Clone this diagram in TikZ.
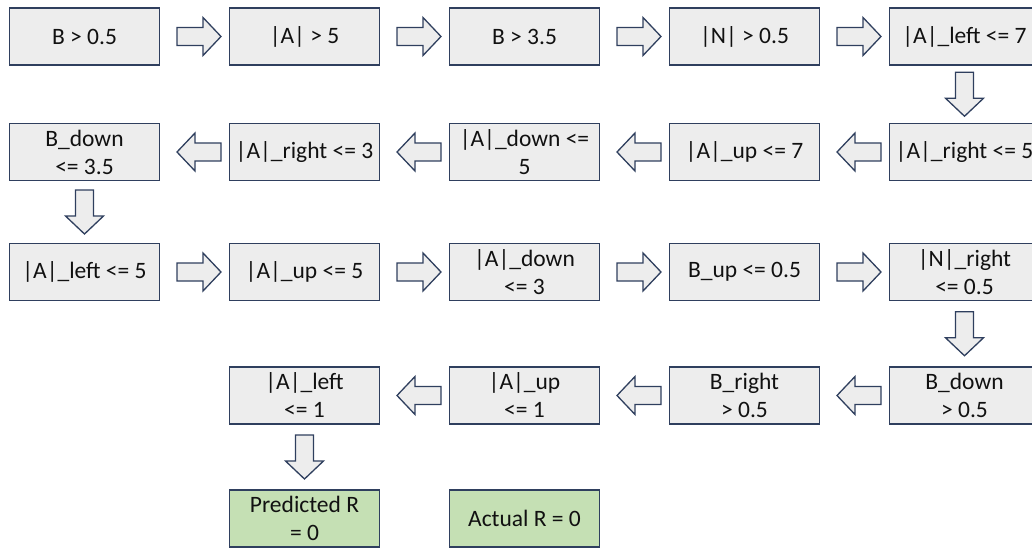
\documentclass[tikz,border=0pt]{standalone}
\usepackage{fontspec}
\setmainfont{Carlito}
\usetikzlibrary{calc}

\definecolor{boxfill}{HTML}{EDEDED}
\definecolor{boxline}{HTML}{2F3F5E}
\definecolor{leaffill}{HTML}{C5E0B4}
\definecolor{inkcol}{HTML}{111111}

\tikzset{
  rulebox/.style={draw=boxline, fill=boxfill, line width=1.3pt,
    minimum width=150pt, minimum height=57pt, inner sep=0pt,
    align=center, text=inkcol, font=\fontsize{23.5}{28}\selectfont},
  leafbox/.style={rulebox, fill=leaffill},
  blockarrow/.style={draw=boxline, fill=boxfill, line width=1.3pt, line join=miter}
}

% block arrow centred between two anchors, pointing along the given angle
\newcommand\flowarrow[5]{%
  \coordinate (#4) at ($(#1)!0.5!(#2)$);
  \begin{scope}[shift={(#4)}, xshift=#5, rotate=#3]
    \draw[blockarrow] (-22,-9) -- (4,-9) -- (4,-19) -- (22,0) -- (4,19) -- (4,9) -- (-22,9) -- cycle;
  \end{scope}
}

\begin{document}
\begin{tikzpicture}[x=1pt, y=-1pt]
\useasboundingbox (0,0) rectangle (1032,548);

% row 1
\node[rulebox] (r1c1) at (84.5,36.5) {B > 0.5};
\node[rulebox] (r1c2) at (304.5,36.5) {|A| > 5};
\node[rulebox] (r1c3) at (524.5,36.5) {B > 3.5};
\node[rulebox] (r1c4) at (744.5,36.5) {|N| > 0.5};
\node[rulebox] (r1c5) at (964.5,36.5) {|A|\_left <= 7};

% row 2
\node[rulebox] (r2c5) at (964.5,152) {|A|\_right <= 5};
\node[rulebox] (r2c4) at (744.5,152) {|A|\_up <= 7};
\node[rulebox] (r2c3) at (524.5,152) {|A|\_down <=\\5};
\node[rulebox] (r2c2) at (304.5,152) {|A|\_right <= 3};
\node[rulebox] (r2c1) at (84.5,152) {B\_down\\<= 3.5};

% row 3
\node[rulebox] (r3c1) at (84.5,272) {|A|\_left <= 5};
\node[rulebox] (r3c2) at (304.5,272) {|A|\_up <= 5};
\node[rulebox] (r3c3) at (524.5,272) {|A|\_down\\<= 3};
\node[rulebox] (r3c4) at (744.5,272) {B\_up <= 0.5};
\node[rulebox] (r3c5) at (964.5,272) {|N|\_right\\<= 0.5};

% row 4
\node[rulebox] (r4c5) at (964.5,395.5) {B\_down\\> 0.5};
\node[rulebox] (r4c4) at (744.5,395.5) {B\_right\\> 0.5};
\node[rulebox] (r4c3) at (524.5,395.5) {|A|\_up\\<= 1};
\node[rulebox] (r4c2) at (304.5,395.5) {|A|\_left\\<= 1};

% outcomes
\node[leafbox] (r5c2) at (304.5,518.5) {Predicted R\\= 0};
\node[leafbox] (r5c3) at (524.5,518.5) {Actual R = 0};

% connectors
\flowarrow{r1c1.east}{r1c2.west}{0}{a1}{4.5pt}
\flowarrow{r1c2.east}{r1c3.west}{0}{a2}{4.5pt}
\flowarrow{r1c3.east}{r1c4.west}{0}{a3}{4.5pt}
\flowarrow{r1c4.east}{r1c5.west}{0}{a4}{4.5pt}
\flowarrow{r1c5.south}{r2c5.north}{-90}{a5}{0pt}
\flowarrow{r2c5.west}{r2c4.east}{180}{a6}{4.5pt}
\flowarrow{r2c4.west}{r2c3.east}{180}{a7}{4.5pt}
\flowarrow{r2c3.west}{r2c2.east}{180}{a8}{4.5pt}
\flowarrow{r2c2.west}{r2c1.east}{180}{a9}{4.5pt}
\flowarrow{r2c1.south}{r3c1.north}{-90}{a10}{0pt}
\flowarrow{r3c1.east}{r3c2.west}{0}{a11}{4.5pt}
\flowarrow{r3c2.east}{r3c3.west}{0}{a12}{4.5pt}
\flowarrow{r3c3.east}{r3c4.west}{0}{a13}{4.5pt}
\flowarrow{r3c4.east}{r3c5.west}{0}{a14}{4.5pt}
\flowarrow{r3c5.south}{r4c5.north}{-90}{a15}{0pt}
\flowarrow{r4c5.west}{r4c4.east}{180}{a16}{4.5pt}
\flowarrow{r4c4.west}{r4c3.east}{180}{a17}{4.5pt}
\flowarrow{r4c3.west}{r4c2.east}{180}{a18}{4.5pt}
\flowarrow{r4c2.south}{r5c2.north}{-90}{a19}{0pt}
\end{tikzpicture}
\end{document}
